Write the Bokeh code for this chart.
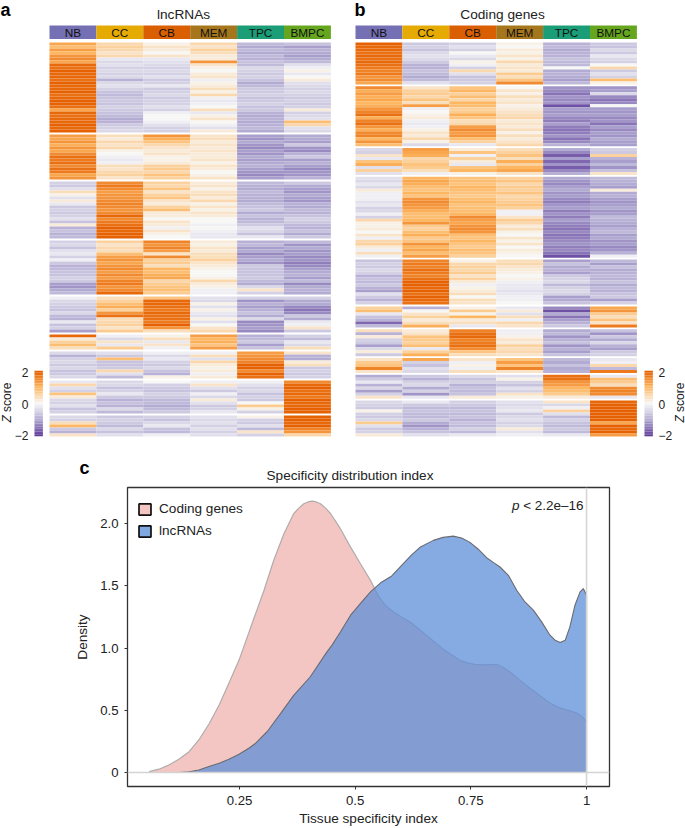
import math
from bokeh.plotting import figure
from bokeh.models import (Range1d, LinearColorMapper, Label, Span, Legend, LegendItem,
                          FixedTicker, ColumnDataSource)
from bokeh.layouts import column, row
from bokeh.transform import transform
from bokeh.embed import file_html
from bokeh.resources import INLINE

FONT = "Liberation Sans"
samples = ["NB", "CC", "CB", "MEM", "TPC", "BMPC"]
sample_colors = ["#7570b3", "#e6ab02", "#d95f02", "#a6761d", "#1b9e77", "#66a61e"]
colorbar_levels = [-2.0,-1.9,-1.8,-1.7,-1.6,-1.5,-1.4,-1.3,-1.2,-1.1,-1.0,-0.9,-0.8,-0.7,-0.6,-0.5,-0.4,-0.3,-0.2,-0.1,0.0,
                   0.1,0.2,0.3,0.4,0.5,0.6,0.7,0.8,0.9,1.0,1.1,1.2,1.3,1.4,1.5,1.6,1.7,1.8,1.9,2.0]

# z-scores x10; each row: NB, CC, CB, MEM, TPC, BMPC
lnc_c1 = [[12,5,1,5,-8,-7],[9,6,3,3,-10,-11],[13,5,2,6,-8,-9],[10,3,0,4,-10,-10],[14,5,3,2,-8,-11],
[15,-2,-2,2,-9,-10],[12,-4,-3,14,-7,-8],[19,-3,-4,3,-8,-3],[18,-5,-5,1,-4,-1],[20,-4,-4,0,-5,1],
[19,-5,-5,2,-6,-2],[19,-4,-3,3,-5,0],[18,-9,-6,-1,-7,2],[20,-4,-5,1,-10,-3],[19,-3,-2,2,-8,-4],
[19,-5,-6,4,-6,-5],[20,-7,-5,1,-6,-4],[18,-8,-4,5,-5,-5],[19,-7,-6,-1,-7,-6],[20,-6,-5,-2,-6,-5],
[20,-7,-5,-1,-5,-6],[18,-5,-3,0,-7,-5],[12,-6,-5,4,-6,2],[19,-7,-1,-2,-9,-5],[18,-8,0,1,-10,-4],
[19,-10,0,3,-9,-3],[19,-9,-1,0,-10,9],[20,-6,-3,-1,-9,5],[19,-5,-5,-3,-8,-3],[20,-4,-5,2,-10,-4]]
lnc_c2 = [[13,4,14,3,-11,-10],[12,2,11,4,-12,-10],[14,5,8,2,-10,-11],[11,3,5,3,-12,-6],[14,5,3,2,-13,-12],
[12,1,2,3,-11,-13],[15,0,3,2,-12,-9],[18,-1,1,2,-10,-6],[17,-2,1,3,-11,-11],[18,-1,2,1,-10,-9],
[15,4,6,3,-9,-11],[18,3,7,2,-11,-13],[17,5,5,0,-12,-12],[12,6,8,1,-13,-12],[14,3,6,3,-11,-9]]
lnc_c3 = [[-5,15,6,2,-8,-6],[-6,17,5,3,-9,-10],[-3,15,8,1,-10,-11],[4,13,3,3,-8,-12],[1,14,6,4,-9,-10],
[-3,14,8,2,-9,-11],[2,15,3,5,-10,-12],[-2,16,2,1,-8,-9],[-6,15,6,3,-7,-10],[-5,14,9,1,-6,-8],
[-6,15,2,3,-10,-9],[-5,19,2,2,-7,-7],[-3,15,0,0,-9,-5],[-7,17,3,0,-8,-6],[2,18,2,-1,-6,-8],
[-9,20,-1,0,-3,-9],[-7,19,3,-1,-4,-7],[-9,20,1,-2,-7,-10],[-8,20,0,-2,-2,-6]]
lnc_c4 = [[-5,6,16,2,-9,-8],[-4,3,14,1,-8,-12],[-7,5,16,3,-11,-10],[-3,4,13,2,-10,-12],[-2,9,3,4,-13,-11],
[-5,13,15,4,-11,-13],[-1,14,6,6,-10,-12],[-6,12,7,3,-12,-14],[-9,14,4,2,-6,-13],[-8,15,10,1,-7,-11],
[-7,13,9,0,-7,-10],[-7,15,11,0,-7,-9],[-5,13,12,1,-6,-11],[-6,16,5,5,-8,-8],[-11,17,7,2,-10,-13],
[-12,14,8,1,-4,-10],[-10,15,9,-1,3,-9],[-8,19,7,-1,-5,-10]]
lnc_c5 = [[-1,4,8,-3,-5,-5],[-4,6,19,-4,-12,-10],[-5,9,19,1,-9,-10],[-6,11,18,-3,-11,-13],[-7,6,17,1,-9,-15],
[-4,14,19,-2,-7,-13],[-8,18,18,-3,-10,-6],[-9,4,18,1,-4,-10],[-2,5,17,-3,-13,-2],[-7,6,20,0,-12,-1],
[-5,3,14,3,-11,3],[-11,7,4,5,-13,-6]]
lnc_c6 = [[19,-1,1,13,-9,-5],[2,-4,4,10,-8,-8],[6,3,-2,11,-6,-2],[9,-2,3,8,-11,-4],[4,7,-1,13,-7,4]]
lnc_c7 = [[-4,-3,-1,-1,13,3],[-9,-6,-4,4,14,-9],[-5,9,-2,-3,15,-10],[-4,-7,-5,5,16,2],[-6,-7,-6,2,20,4],
[-4,-6,-4,1,20,-6],[-7,5,-7,2,15,-5],[-6,-3,-9,-1,20,-6],[-4,-8,1,2,18,-5]]
lnc_c8 = [[-2,-4,0,-1,-1,15],[5,-4,-5,3,-3,19],[-3,-7,-6,-3,-5,20],[-5,-5,-7,-6,-4,18],[8,-2,-5,-1,-7,19],
[2,-6,-6,-4,-5,17],[-4,-9,-8,2,-6,20],[-5,-7,-8,-3,0,19],[-3,-9,-10,-6,7,19],[-7,-4,-8,-5,1,20],[-5,-8,-6,-2,-5,20]]
lnc_c9 = [[-4,-6,-5,-3,1,20],[-5,-5,-7,-4,-5,20],[4,-6,-4,-3,-6,19],[10,-8,-2,-5,-3,20],[-6,-4,-7,-3,-8,16],
[-9,-7,-8,-5,3,14],[3,-3,-1,-3,-5,5]]

cod_c1 = [[20,-6,-5,1,-9,-6],[19,-5,-3,0,-8,-7],[19,-7,-5,2,-10,-4],[18,-4,0,1,-9,-6],[19,-3,-2,3,-9,-2],
[18,-4,-4,1,-7,-4],[19,-6,1,5,-8,-5],[18,-9,-1,2,-8,0],[17,-9,-5,3,0,5],[16,-7,5,2,-10,-6],
[17,-8,-3,7,-9,-3],[14,-10,-7,4,-10,-5],[15,-8,-6,8,-11,9],[12,-3,-5,15,-8,1]]
cod_c2 = [[15,3,8,0,-12,-12],[11,6,10,3,-13,-11],[13,7,6,1,-15,-4],[11,5,9,4,-12,-13],[12,8,5,2,-13,-15],
[10,4,10,3,-12,-13],[11,13,9,1,-18,0],[14,-1,6,2,-11,-11],[16,0,7,3,-12,-12],[18,1,11,4,-11,-11],
[11,2,8,5,-13,-13],[16,-1,4,2,-14,-12],[18,-2,5,3,-11,-15],[14,-1,13,2,-14,-11],[11,1,15,4,-15,-13],
[15,3,13,1,-14,-11],[16,2,14,4,-12,-12],[10,5,9,2,-15,-10],[14,1,6,3,-13,-11],[9,-4,-2,5,-9,-11]]
cod_c3 = [[-4,13,2,4,-10,-5],[-5,12,8,6,-13,-6],[3,11,-1,8,-17,6],[-2,5,6,4,-11,-9],[8,6,2,11,-16,-11],
[11,8,-2,6,-12,-8],[-3,7,8,10,-17,-12],[6,4,10,12,-13,-7],[-3,-1,1,3,-9,3]]
cod_c4 = [[-3,10,8,6,-10,-8],[-4,12,9,8,-12,-9],[-2,11,8,5,-13,-10],[-4,9,10,7,-11,-11],[2,8,9,6,-10,2],
[-1,10,8,8,-12,-10],[-1,8,7,5,-11,-9],[-1,14,9,6,-13,-11],[-3,15,10,7,-14,-12],[-2,14,8,8,-12,-11],
[-5,13,9,6,-11,-10],[-4,11,9,-1,-14,-12],[-1,9,10,-1,-12,-11],[-5,9,15,3,-14,-8],[5,10,13,7,-11,-9],
[1,14,12,5,-13,-10],[1,7,14,2,-14,-11],[2,6,15,4,-15,-9],[0,9,14,1,-13,-8],[3,11,9,0,-15,-11],
[-1,7,8,3,-14,-10],[5,8,10,1,-13,-12],[6,14,8,3,-12,-11],[2,10,7,0,-14,-13],[-1,12,9,2,-13,-12],
[4,9,8,1,-15,-9],[-1,13,6,0,-18,-1]]
cod_c5 = [[-7,16,1,4,-11,-8],[-5,17,5,5,-7,-11],[-6,16,6,3,-10,-7],[-4,18,5,2,-9,-10],[-5,17,7,1,-11,-9],
[-9,16,3,0,-6,-8],[-7,18,6,1,-5,-9],[-8,20,2,-1,-4,-7],[-6,20,-1,-2,-8,-10],[-9,19,1,-2,-5,-8],
[-11,20,2,-3,-4,-9],[-3,18,4,-2,-5,-7],[-6,20,0,-1,-11,-6],[-9,19,4,-1,-10,-11],[-5,18,3,0,-7,-5]]
cod_c6 = [[6,-9,1,-2,-13,12],[9,0,7,2,-18,14],[-2,3,1,-3,-10,7],[-7,6,10,4,-15,4],[-9,2,2,-1,-11,8],
[-16,4,4,5,-9,3],[-8,11,-2,3,-6,17]]
cod_c7 = [[4,2,16,-1,-10,-7],[-9,3,18,-1,-8,-12],[2,8,19,1,-12,-6],[-5,7,16,3,-9,-10],[-6,6,17,2,-7,-4],
[-11,9,18,6,-12,-9],[-4,-2,15,4,-9,-11],[2,6,8,5,-11,-6],[-6,11,4,3,-7,-5]]
cod_c8 = [[3,12,3,8,-8,-2],[7,-5,-1,13,-10,-1],[8,-7,1,8,-7,5],[16,-3,-1,16,-10,-8],[3,-4,4,3,-9,17]]
cod_c9 = [[-10,-6,-4,-3,18,-2],[-6,-9,-7,1,18,9],[-2,-5,-5,-5,14,7],[-9,-4,-9,-7,13,4],[-4,-10,-7,-3,10,15],
[-11,-5,-8,-5,9,16],[-5,-12,-7,3,7,15],[3,-2,2,1,2,-2]]
cod_c10 = [[-4,-2,-5,-3,3,19],[-5,-6,-6,-4,-4,20],[-6,-8,-8,-3,-1,20],[1,-7,-7,-2,6,20],[-5,-8,-8,-6,-3,20],
[-6,-8,-7,-4,-8,20],[-4,-6,-9,-3,-5,20],[7,-10,-7,-5,-7,12],[-3,-12,-8,-4,-8,20],[-6,-9,-5,2,-6,19],
[-5,-7,-8,-3,-8,20],[2,-3,-2,-1,-2,13]]

# density curves
coding_x = [0.0545,0.076,0.098,0.119,0.141,0.162,0.184,0.206,0.227,0.249,0.263,0.281,0.303,0.324,0.346,0.367,0.378,0.389,
            0.398,0.407,0.416,0.425,0.436,0.447,0.468,0.49,0.511,0.533,0.550,0.565,0.583,0.600,0.619,0.655,0.691,0.727,0.745,0.759,
            0.782,0.806,0.820,0.834,0.852,0.870,0.906,0.925,0.942,0.960,0.978,0.990,1.0]
coding_y = [0.008,0.027,0.062,0.107,0.168,0.262,0.39,0.543,0.717,0.904,1.05,1.238,1.465,1.706,1.92,2.08,2.125,2.16,
            2.175,2.181,2.175,2.16,2.125,2.08,1.96,1.812,1.68,1.545,1.42,1.345,1.29,1.25,1.21,1.10,0.99,0.90,0.88,0.87,
            0.865,0.87,0.845,0.81,0.755,0.70,0.60,0.55,0.52,0.50,0.48,0.45,0.41]
lnc_x = [0.0545,0.119,0.141,0.162,0.184,0.206,0.227,0.249,0.27,0.285,0.31,0.339,0.367,0.403,0.439,0.45,0.468,0.49,0.511,0.533,
         0.555,0.579,0.604,0.622,0.640,0.669,0.690,0.712,0.730,0.748,0.766,0.784,0.800,0.813,0.831,0.849,0.867,0.885,0.903,0.921,
         0.932,0.943,0.954,0.964,0.975,0.986,0.993,1.0]
lnc_y = [0.0,0.0,0.006,0.02,0.048,0.075,0.107,0.147,0.195,0.236,0.33,0.476,0.62,0.77,0.97,1.024,1.13,1.265,1.358,1.452,
         1.525,1.58,1.68,1.75,1.81,1.866,1.89,1.90,1.885,1.85,1.795,1.727,1.685,1.652,1.585,1.465,1.371,1.305,1.211,1.104,
         1.064,1.046,1.064,1.171,1.345,1.452,1.479,1.425]

# PuOr ramp for z-scores
anchors = [(0x5e,0x3c,0x99),(0xb2,0xab,0xd2),(0xf7,0xf7,0xf7),(0xfd,0xb8,0x63),(0xe6,0x61,0x01)]
ramp = []
for i in range(256):
    t = i / 255 * 4
    k = min(int(t), 3)
    f = t - k
    c = [round(anchors[k][j] + (anchors[k+1][j] - anchors[k][j]) * f) for j in range(3)]
    ramp.append("#%02x%02x%02x" % tuple(c))
mapper = LinearColorMapper(palette=ramp, low=-2, high=2)

COL_W = 46.9
ROW_H = 3.0
HEAT_TOP = 42
HEAT_FIG_H = 478
PC_TOP = 443

def heat_panel(width, left, title, title_cx, clusters, gap, cb_x, labels_x, z_x, label_align, letter_x, letter):
    height = HEAT_FIG_H
    xs = lambda px: (px - left) / COL_W
    ys = lambda px: (px - HEAT_TOP) / ROW_H
    p = figure(width=width, height=height, output_backend="svg", toolbar_location=None,
               x_range=Range1d(xs(0), xs(width)), y_range=Range1d(ys(height), ys(0)),
               min_border=0, outline_line_color=None, background_fill_color="white", border_fill_color="white")
    p.xaxis.visible = False
    p.yaxis.visible = False
    p.grid.visible = False
    l, r, t, b, z = [], [], [], [], []
    pos = 0.0
    for c in clusters:
        for rw in c:
            for j, v in enumerate(rw):
                l.append(j); r.append(j + 1); t.append(pos); b.append(pos + 1); z.append(v / 10)
            pos += 1
        pos += gap
    src = ColumnDataSource(dict(l=l, r=r, t=t, b=b, z=z))
    cm = transform("z", mapper)
    p.quad(left="l", right="r", top="t", bottom="b", source=src, fill_color=cm, line_color=None)
    hsrc = ColumnDataSource(dict(l=list(range(6)), r=list(range(1, 7)), c=sample_colors, name=samples,
                                 cx=[j + 0.5 for j in range(6)]))
    p.quad(left="l", right="r", top=ys(25), bottom=ys(38.5), source=hsrc, fill_color="c", line_color=None)
    p.text(x="cx", y=ys(32), text="name", source=hsrc, text_align="center", text_baseline="middle",
           text_font_size="11.8px", text_font={"value": FONT}, text_color="#111111")
    p.add_layout(Label(x=xs(title_cx), y=ys(13.5), text=title, text_align="center", text_baseline="middle",
                       text_font=FONT, text_font_size="13.7px", text_color="#222222"))
    p.add_layout(Label(x=xs(letter_x), y=ys(9.5), text=letter, text_align="left", text_baseline="middle",
                       text_font=FONT, text_font_style="bold", text_font_size="18px", text_color="#000000"))
    # colour key, drawn through the same mapper
    n = len(colorbar_levels)
    step = 64.0 / (n - 1)
    lv = ColumnDataSource(dict(
        z=colorbar_levels[::-1],
        t=[ys(371 + i * step - step / 2) for i in range(n)],
        b=[ys(371 + i * step + step / 2) for i in range(n)]))
    p.quad(left=xs(cb_x), right=xs(cb_x + 8.4), top="t", bottom="b", source=lv, fill_color=cm, line_color=None)
    for txt, py in (("2", 372), ("0", 403.5), ("\u22122", 435)):
        p.add_layout(Label(x=xs(labels_x), y=ys(py), text=txt, text_align=label_align, text_baseline="middle",
                           text_font=FONT, text_font_size="12px", text_color="#222222"))
    p.add_layout(Label(x=xs(z_x), y=ys(422), text="Z", angle=math.pi / 2, text_align="left", text_baseline="middle",
                       text_font=FONT, text_font_style="italic", text_font_size="12px", text_color="#222222"))
    p.add_layout(Label(x=xs(z_x), y=ys(411.5), text="score", angle=math.pi / 2, text_align="left", text_baseline="middle",
                       text_font=FONT, text_font_size="12px", text_color="#222222"))
    return p, xs, ys

lnc_clusters = [lnc_c1, lnc_c2, lnc_c3, lnc_c4, lnc_c5, lnc_c6, lnc_c7, lnc_c8, lnc_c9]
cod_clusters = [cod_c1, cod_c2, cod_c3, cod_c4, cod_c5, cod_c6, cod_c7, cod_c8, cod_c9, cod_c10]

pa, xa, ya = heat_panel(345, 49, "lncRNAs", 183, lnc_clusters, 0.667, 34, 28, 6, "right", 0, "a")
pb, _, _ = heat_panel(340, 10, "Coding genes", 157, cod_clusters, 0.593, 299, 313, 334, "left", 9, "b")
pa.add_layout(Label(x=xa(79), y=ya(467), text="c", text_align="left", text_baseline="middle",
                    text_font=FONT, text_font_style="bold", text_font_size="18px", text_color="#000000"))

# panel c: its transparent border overlaps the heatmap figures' lower margin
pc = figure(width=685, height=828 - PC_TOP, output_backend="svg", toolbar_location=None,
            x_range=Range1d(0.0079, 1.0496), y_range=Range1d(-0.112, 2.291),
            min_border_left=127, min_border_right=76, min_border_top=487 - PC_TOP, min_border_bottom=41,
            outline_line_color="#333333", outline_line_width=1.3, background_fill_color="white",
            border_fill_alpha=0, margin=(PC_TOP - HEAT_FIG_H, 0, 0, 0))
pc.grid.visible = False
pc.title.text = "Specificity distribution index"
pc.title.align = "left"
pc.title.offset = 139
pc.title.standoff = 9
pc.title.text_font = FONT
pc.title.text_font_size = "13.6px"
pc.title.text_font_style = "normal"
pc.title.text_color = "#222222"
pc.add_layout(Span(location=1, dimension="height", line_color="#d4d4d4", line_width=1.5))
pc.add_layout(Span(location=0, dimension="width", line_color="#d4d4d4", line_width=1.5))
CODING = "#f4c6c3"
LNC = "#5e8fd8"
pc.varea(x=coding_x, y1=[0] * len(coding_x), y2=coding_y, fill_color=CODING)
pc.line(x=coding_x, y=coding_y, line_color="#b0acac", line_width=1.2)
pc.varea(x=lnc_x, y1=[0] * len(lnc_x), y2=lnc_y, fill_color=LNC, fill_alpha=0.75)
pc.line(x=lnc_x + [1.0, lnc_x[0]], y=lnc_y + [0, 0], line_color="#6a6a70", line_width=1.1)

nan = float("nan")
k1 = pc.quad(left=[nan], right=[nan], top=[nan], bottom=[nan], fill_color=CODING, line_color="#111111", line_width=1.7)
k2 = pc.quad(left=[nan], right=[nan], top=[nan], bottom=[nan], fill_color="#7fa8e0", line_color="#111111", line_width=1.7)
legend = Legend(items=[LegendItem(label="Coding genes", renderers=[k1]), LegendItem(label="lncRNAs", renderers=[k2])],
                location=(9, 247), glyph_width=15, glyph_height=14, label_standoff=7, spacing=7, padding=1, margin=0,
                label_text_font=FONT, label_text_font_size="13.6px", label_text_color="#222222",
                background_fill_alpha=0, border_line_alpha=0)
pc.add_layout(legend)

for ax, ticks, over in ((pc.xaxis[0], [0.25, 0.5, 0.75, 1.0], {0.25: "0.25", 0.5: "0.5", 0.75: "0.75", 1.0: "1"}),
                        (pc.yaxis[0], [0.0, 0.5, 1.0, 1.5, 2.0], {0.0: "0", 0.5: "0.5", 1.0: "1.0", 1.5: "1.5", 2.0: "2.0"})):
    ax.ticker = FixedTicker(ticks=ticks)
    ax.major_label_overrides = over
    ax.major_tick_out = 3
    ax.major_tick_in = 0
    ax.minor_tick_line_color = None
    ax.axis_line_color = None
    ax.major_tick_line_color = "#333333"
    ax.major_label_text_font = FONT
    ax.major_label_text_font_size = "13.2px"
    ax.major_label_text_color = "#222222"
    ax.axis_label_text_font = FONT
    ax.axis_label_text_font_size = "13.6px"
    ax.axis_label_text_font_style = "normal"
    ax.axis_label_text_color = "#222222"
pc.xaxis.axis_label = "Tissue specificity index"
pc.yaxis.axis_label = "Density"
pc.xaxis.major_label_standoff = 6
pc.yaxis.major_label_standoff = 6
pc.xaxis.axis_label_standoff = 3
pc.yaxis.axis_label_standoff = 7

pc.add_layout(Label(x=0.839, y=2.147, text="p", text_align="left", text_baseline="middle",
                    text_font=FONT, text_font_style="italic", text_font_size="13.5px", text_color="#222222"))
pc.add_layout(Label(x=0.863, y=2.147, text="< 2.2e\u201316", text_align="left", text_baseline="middle",
                    text_font=FONT, text_font_size="13.5px", text_color="#222222"))

page = column(row(pa, pb, spacing=0), pc, spacing=0)
open("out.html", "w").write(file_html(page, INLINE))
